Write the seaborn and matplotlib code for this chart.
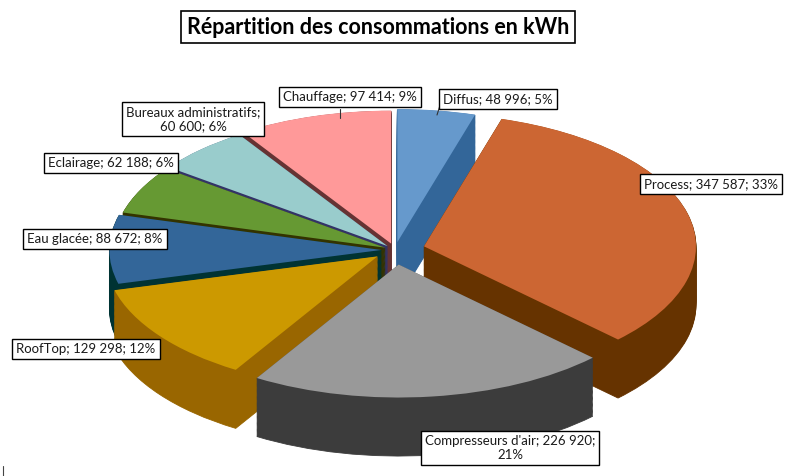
import numpy as np
import matplotlib
matplotlib.use("Agg")
import matplotlib.pyplot as plt
import seaborn as sns

# ---------------- data ----------------
categories = ["Diffus", "Process", "Compresseurs d'air", "RoofTop",
              "Eau glacée", "Eclairage", "Bureaux administratifs", "Chauffage"]
values = [48996, 347587, 226920, 129298, 88672, 62188, 60600, 97414]
title = "Répartition des consommations en kWh"

# ---------------- styles ----------------
top_colors = ["#6699CC", "#CC6633", "#999999", "#CC9900",
              "#336699", "#669933", "#99CCCC", "#FF9999"]
side_colors = ["#336699", "#663300", "#3C3C3C", "#996600",
               "#003333", "#333300", "#333366", "#663333"]
explode = [0.06, 0.11, 0.11, 0.08, 0.05, 0.04, 0.04, 0.05]
# label box centres in pixels (x from left, y from top)
label_px = [(498, 99), (711, 184), (510, 448), (86, 349),
            (95, 239), (111, 163), (193, 119), (350, 97)]

W, H = 788, 476
sns.set_theme(style="white")
plt.rcParams['font.family'] = ['Lato', 'DejaVu Sans']

fig = plt.figure(figsize=(W / 100, H / 100), dpi=100)
fig.patch.set_facecolor("white")
ax = fig.add_axes([0, 0, 1, 1])

# ellipse geometry (pixels per unit)
px_x, px_y = 272.0, 133.0
cx, cy = 395.0, 250.0
depth = 0.44
n_layers = 50

for off in np.linspace(-depth, -0.005, n_layers):
    ax.pie(values, colors=side_colors, explode=explode, startangle=90,
           counterclock=False, center=(0, off), radius=1.0,
           wedgeprops=dict(linewidth=0.6, antialiased=True))
    for w, c in zip(ax.patches[-len(values):], side_colors):
        w.set_edgecolor(c)

ax.pie(values, colors=top_colors, explode=explode, startangle=90,
       counterclock=False, center=(0, 0), radius=1.0,
       wedgeprops=dict(linewidth=0))

ax.set_aspect("auto")
ax.set_xlim(-cx / px_x, (W - cx) / px_x)
ax.set_ylim(-(H - cy) / px_y, cy / px_y)
ax.axis("off")

total = sum(values)
for name, v, (lx, ly) in zip(categories, values, label_px):
    num = f"{v:,}".replace(",", " ")
    pct = f"{round(100 * v / total):d}%"
    if name.startswith("Bureaux"):
        txt = f"{name};\n{num}; {pct}"
    elif name.startswith("Compresseurs"):
        txt = f"{name}; {num};\n{pct}"
    else:
        txt = f"{name}; {num}; {pct}"
    fig.text(lx / W, 1 - ly / H, txt, ha="center", va="center",
             fontsize=9.5, color="#1A1A1A", linespacing=1.25,
             bbox=dict(boxstyle="square,pad=0.3", fc="white", ec="black", lw=1.0))

# leader lines
fig.add_artist(plt.Line2D([447 / W, 442 / W, 437 / W],
                          [1 - 99 / H, 1 - 99 / H, 1 - 115 / H],
                          color="#333333", lw=0.8))
fig.add_artist(plt.Line2D([340 / W, 340 / W], [1 - 109 / H, 1 - 118 / H],
                          color="#333333", lw=0.8))
fig.add_artist(plt.Line2D([3 / W, 3 / W], [0, 10 / H], color="#444444", lw=0.8))

fig.text(378 / W, 1 - 27 / H, title, ha="center", va="center",
         fontsize=15.5, fontweight="bold", color="black",
         bbox=dict(boxstyle="square,pad=0.25", fc="white", ec="black", lw=1.2))

fig.savefig("out.png", dpi=100, facecolor="white")
